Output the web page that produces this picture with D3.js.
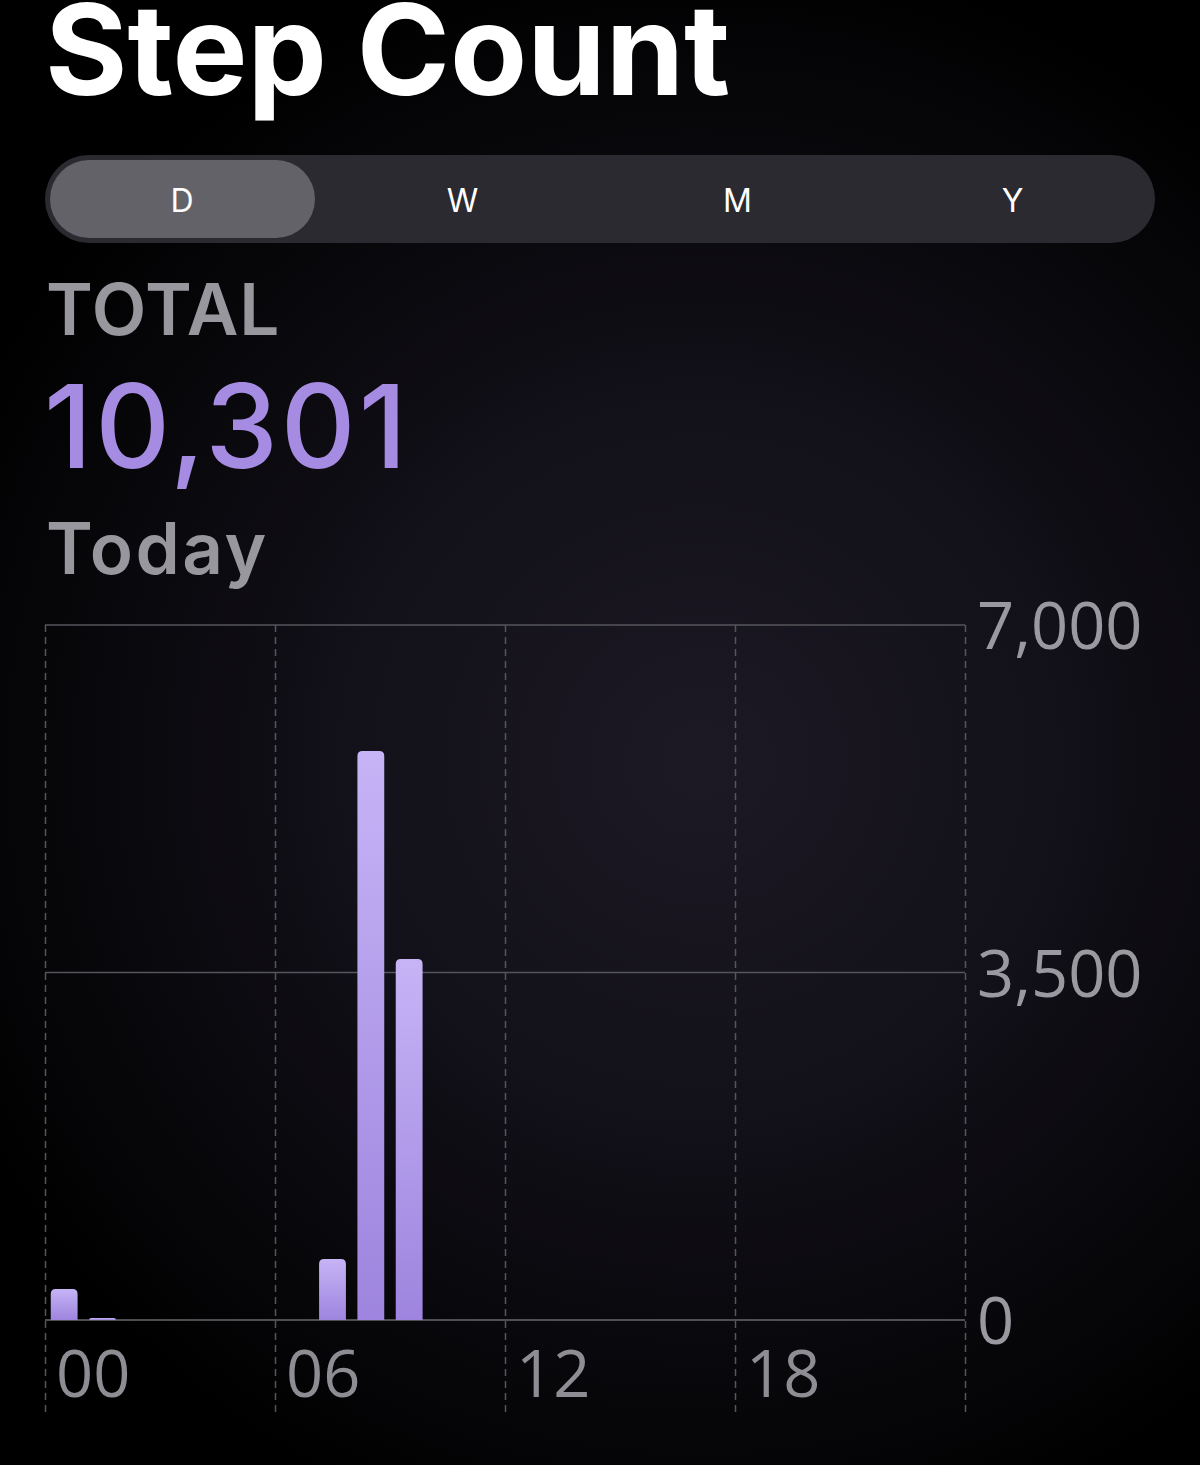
<!DOCTYPE html>
<html>
<head>
<meta charset="utf-8">
<script src="https://cdn.jsdelivr.net/npm/d3@7"></script>
<style>
  html, body { margin: 0; padding: 0; background: #000; }
  svg { display: block; }
</style>
</head>
<body>
<div id="chart"></div>
<script>
// hourly step counts, 00:00 .. 23:00
var hours = ["00","01","02","03","04","05","06","07","08","09","10","11",
             "12","13","14","15","16","17","18","19","20","21","22","23"];
var steps = [312, 8, 0, 0, 0, 0, 0, 614, 5731, 3636, 0, 0,
             0, 0, 0, 0, 0, 0, 0, 0, 0, 0, 0, 0];
var yTicks = [0, 3500, 7000];
var xTickHours = [0, 6, 12, 18, 24];
var xTickLabels = ["00", "06", "12", "18"];
var segments = ["D", "W", "M", "Y"];
var selectedSegment = "D";
var title = "Step Count";
var totalLabel = "TOTAL";
var totalValue = 10301;
var periodLabel = "Today";

var svgWidth = 1200;
var svgHeight = 1465;

var margin = {top: 625, right: 235, bottom: 145, left: 45};
var chartWidth = svgWidth - margin.left - margin.right;
var chartHeight = svgHeight - margin.top - margin.bottom;

var svg = d3.select("#chart")
  .append("svg")
  .attr("width", svgWidth)
  .attr("height", svgHeight);

var defs = svg.append("defs");

var bg = defs.append("radialGradient")
  .attr("id", "bg")
  .attr("gradientUnits", "userSpaceOnUse")
  .attr("cx", 700).attr("cy", 760).attr("r", 820);
bg.append("stop").attr("offset", "0%").attr("stop-color", "#1c1925");
bg.append("stop").attr("offset", "45%").attr("stop-color", "#121018");
bg.append("stop").attr("offset", "100%").attr("stop-color", "#000000");

var barGrad = defs.append("linearGradient")
  .attr("id", "barGrad")
  .attr("x1", 0).attr("y1", 0).attr("x2", 0).attr("y2", 1);
barGrad.append("stop").attr("offset", "0%").attr("stop-color", "#c6b4f6");
barGrad.append("stop").attr("offset", "100%").attr("stop-color", "#9e84de");

svg.append("rect")
  .attr("width", svgWidth)
  .attr("height", svgHeight)
  .attr("fill", "url(#bg)");

// header
svg.append("text")
  .attr("x", 45)
  .attr("y", 95)
  .attr("fill", "#ffffff")
  .style("font-family", "Inter, 'Liberation Sans', sans-serif")
  .style("font-weight", 700)
  .style("font-size", "126px")
  .style("letter-spacing", "0px")
  .text(title);

// segmented control
var segX = d3.scaleBand()
  .domain(segments)
  .range([50, 1150]);

var seg = svg.append("g");
seg.append("rect")
  .attr("x", 45).attr("y", 155)
  .attr("width", 1110).attr("height", 88)
  .attr("rx", 44)
  .attr("fill", "#2b2a31");
seg.append("rect")
  .attr("x", 50).attr("y", 160)
  .attr("width", 265).attr("height", 78)
  .attr("rx", 39)
  .attr("fill", "#636269");
seg.selectAll("text.seg")
  .data(segments)
  .enter()
  .append("text")
  .attr("class", "seg")
  .attr("x", function(d){ return segX(d) + (d == selectedSegment ? 132 : segX.bandwidth() / 2); })
  .attr("y", 212)
  .attr("text-anchor", "middle")
  .attr("fill", "#ffffff")
  .style("font-family", "Inter, sans-serif")
  .style("font-size", "32px")
  .text(function(d){ return d; });

svg.append("text")
  .attr("x", 46).attr("y", 335)
  .attr("fill", "#98979d")
  .style("font-family", "Inter, sans-serif")
  .style("font-weight", 600)
  .style("font-size", "71px")
  .style("letter-spacing", "1px")
  .text(totalLabel);

svg.append("text")
  .attr("x", 44).attr("y", 468)
  .attr("fill", "#a68be2")
  .style("font-family", "Inter, sans-serif")
  .style("font-weight", 500)
  .style("font-size", "116px")
  .style("letter-spacing", "3px")
  .text(d3.format(",")(totalValue));

svg.append("text")
  .attr("x", 46).attr("y", 574)
  .attr("fill", "#98979d")
  .style("font-family", "Inter, sans-serif")
  .style("font-weight", 600)
  .style("font-size", "71px")
  .style("letter-spacing", "2.5px")
  .text(periodLabel);

// chart
var chartGroup = svg.append("g")
  .attr("transform", `translate(${margin.left},${margin.top})`);

var xLinear = d3.scaleLinear()
  .domain([0, 24])
  .range([0, chartWidth]);

var xBand = d3.scaleBand()
  .domain(hours)
  .range([0, chartWidth])
  .paddingInner(0.3)
  .paddingOuter(0.15);

var yLinearScale = d3.scaleLinear()
  .domain([0, 7000])
  .range([chartHeight, 0]);

var baseY = yLinearScale(0);

// vertical dashed hour lines
chartGroup.selectAll("line.vgrid")
  .data(xTickHours)
  .enter()
  .append("line")
  .attr("class", "vgrid")
  .attr("x1", d => xLinear(d) + 0.5)
  .attr("x2", d => xLinear(d) + 0.5)
  .attr("y1", 0)
  .attr("y2", baseY + 92)
  .attr("stroke", "#56555b")
  .attr("stroke-width", 1.5)
  .attr("stroke-dasharray", "7,5");

// horizontal value lines
chartGroup.selectAll("line.hgrid")
  .data(yTicks)
  .enter()
  .append("line")
  .attr("class", "hgrid")
  .attr("x1", 0)
  .attr("x2", chartWidth)
  .attr("y1", d => yLinearScale(d))
  .attr("y2", d => yLinearScale(d))
  .attr("stroke", d => d == 0 ? "#68676d" : "#56555b")
  .attr("stroke-width", 1.5);

// bars with rounded tops
function barPath(x, y, w, h, r) {
  r = Math.min(r, h, w / 2);
  return `M${x},${y + h} V${y + r} Q${x},${y} ${x + r},${y} H${x + w - r} Q${x + w},${y} ${x + w},${y + r} V${y + h} Z`;
}

chartGroup.selectAll("path.bar")
  .data(hours.map((h, i) => ({hour: h, steps: steps[i]})).filter(d => d.steps > 0))
  .enter()
  .append("path")
  .attr("class", "bar")
  .attr("fill", "url(#barGrad)")
  .attr("d", function(d){
    var top = Math.min(yLinearScale(d.steps), baseY - 2);
    return barPath(xBand(d.hour), top, xBand.bandwidth(), baseY - top, 5);
  });

// y tick labels on the right
chartGroup.selectAll("text.ylab")
  .data(yTicks)
  .enter()
  .append("text")
  .attr("class", "ylab")
  .attr("x", chartWidth + 12)
  .attr("y", d => yLinearScale(d) + 24)
  .attr("fill", "#9a999f")
  .style("font-family", "'Open Sans', sans-serif")
  .style("font-weight", 400)
  .style("font-size", "65px")
  .text(d => d3.format(",")(d));

// x tick labels
chartGroup.selectAll("text.xlab")
  .data(xTickLabels)
  .enter()
  .append("text")
  .attr("class", "xlab")
  .attr("x", (d, i) => xLinear(xTickHours[i]) + 11)
  .attr("y", baseY + 77)
  .attr("fill", "#8e8d93")
  .style("font-family", "'Open Sans', sans-serif")
  .style("font-weight", 400)
  .style("font-size", "65px")
  .text(d => d);
</script>
</body>
</html>
